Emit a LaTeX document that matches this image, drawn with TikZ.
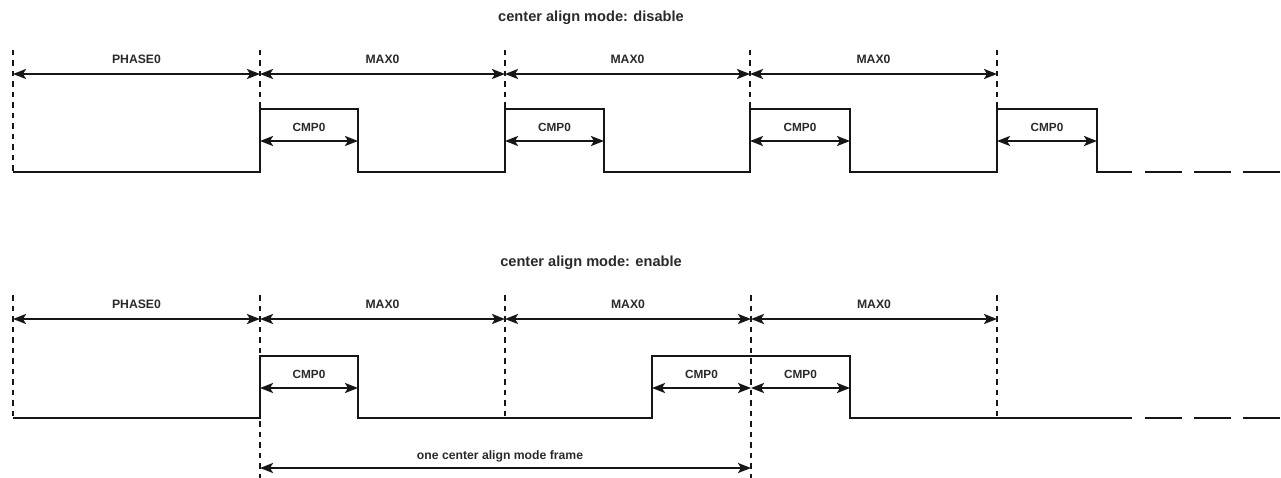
\documentclass[tikz,border=0pt]{standalone}
\usepackage{fontspec}
\setmainfont{Liberation Sans}
\usetikzlibrary{arrows.meta}
\definecolor{ink}{HTML}{161616}
\definecolor{txt}{HTML}{2A2A2A}
\tikzset{
  sig/.style={line width=2.4pt, draw=ink, line join=miter},
  guide/.style={line width=2.2pt, draw=ink, dash pattern=on 5.5pt off 5pt},
  dim/.style={line width=2.2pt, draw=ink, {Stealth[length=13pt,width=10pt,inset=3pt]}-{Stealth[length=13pt,width=10pt,inset=3pt]}},
  tail/.style={line width=2.4pt, draw=ink, dash pattern=on 37pt off 12pt},
  ttl/.style={font=\fontsize{14.6}{16}\selectfont\bfseries, text=txt, inner sep=0pt},
  lbl/.style={font=\fontsize{12.2}{14}\selectfont\bfseries, text=txt, inner sep=0pt},
  slbl/.style={font=\fontsize{11.8}{13}\selectfont\bfseries, text=txt, inner sep=0pt}
}
\begin{document}
\begin{tikzpicture}[x=1pt,y=-1pt]
\useasboundingbox (0,0) rectangle (1281,478);

% ================= TOP: disable =================
\node[ttl] (t1) at (591,18) {center align mode: disable};
\foreach \n/\x in {a/13,b/260,c/505,d/750,e/997}{
  \coordinate (T\n) at (\x,50);
  \coordinate (A\n) at (\x,74);
}
\coordinate (Lo0) at (13,172);
\foreach \n/\x in {b/260,c/505,d/750,e/997}{ \coordinate (H\n) at (\x,109); }
% guides
\draw[guide] (Ta) -- (Lo0);
\foreach \n in {b,c,d,e}{ \draw[guide] (T\n) -- (H\n); }
% waveform
\coordinate (W1) at (1132,172);
\draw[sig] (Lo0) -- (260,172) -- (Hb) -- (358,109) -- (358,172)
  -- (505,172) -- (Hc) -- (604,109) -- (604,172)
  -- (750,172) -- (Hd) -- (850,109) -- (850,172)
  -- (997,172) -- (He) -- (1097,109) -- (1097,172) -- (W1);
\coordinate (D1s) at (1145,172);
\coordinate (D1e) at (1281,172);
\draw[tail] (D1s) -- (D1e);
% period arrows
\draw[dim] (Aa) -- (Ab) node[lbl, midway, above=9pt] (p1) {PHASE0};
\draw[dim] (Ab) -- (Ac) node[lbl, midway, above=9pt] (m1) {MAX0};
\draw[dim] (Ac) -- (Ad) node[lbl, midway, above=9pt] (m2) {MAX0};
\draw[dim] (Ad) -- (Ae) node[lbl, midway, above=9pt] (m3) {MAX0};
% cmp arrows
\foreach \i/\s/\e in {1/260/358,2/505/604,3/750/850,4/997/1097}{
  \coordinate (C\i s) at (\s,141);
  \coordinate (C\i e) at (\e,141);
  \draw[dim] (C\i s) -- (C\i e) node[slbl, midway, above=8.5pt] (c\i) {CMP0};
}

% ================= BOTTOM: enable =================
\node[ttl] (t2) at (591,263) {center align mode: enable};
\foreach \n/\x in {a/13,b/260,c/505,d/751,e/997}{
  \coordinate (U\n) at (\x,295);
  \coordinate (B\n) at (\x,319);
}
\coordinate (L0) at (13,418);
\coordinate (Gb) at (260,478);
\coordinate (Gc) at (505,418);
\coordinate (Gd) at (751,478);
\coordinate (Ge) at (997,418);
\draw[guide] (Ua) -- (L0);
\draw[guide] (Ub) -- (Gb);
\draw[guide] (Uc) -- (Gc);
\draw[guide] (Ud) -- (Gd);
\draw[guide] (Ue) -- (Ge);
% waveform
\coordinate (W2) at (1132,418);
\draw[sig] (L0) -- (260,418) -- (260,356) -- (358,356) -- (358,418)
  -- (652,418) -- (652,356) -- (850,356) -- (850,418) -- (W2);
\coordinate (D2s) at (1145,418);
\coordinate (D2e) at (1281,418);
\draw[tail] (D2s) -- (D2e);
% period arrows
\draw[dim] (Ba) -- (Bb) node[lbl, midway, above=9pt] (p2) {PHASE0};
\draw[dim] (Bb) -- (Bc) node[lbl, midway, above=9pt] (n1) {MAX0};
\draw[dim] (Bc) -- (Bd) node[lbl, midway, above=9pt] (n2) {MAX0};
\draw[dim] (Bd) -- (Be) node[lbl, midway, above=9pt] (n3) {MAX0};
% cmp arrows
\foreach \i/\s/\e in {5/260/358,6/652/751,7/751/850}{
  \coordinate (C\i s) at (\s,388);
  \coordinate (C\i e) at (\e,388);
  \draw[dim] (C\i s) -- (C\i e) node[slbl, midway, above=8.5pt] (c\i) {CMP0};
}
% frame arrow
\coordinate (Fs) at (260,468);
\coordinate (Fe) at (751,468);
\draw[dim] (Fs) -- (Fe);
\node[lbl] (fr) at (500,456) {one center align mode frame};
\end{tikzpicture}
\end{document}
